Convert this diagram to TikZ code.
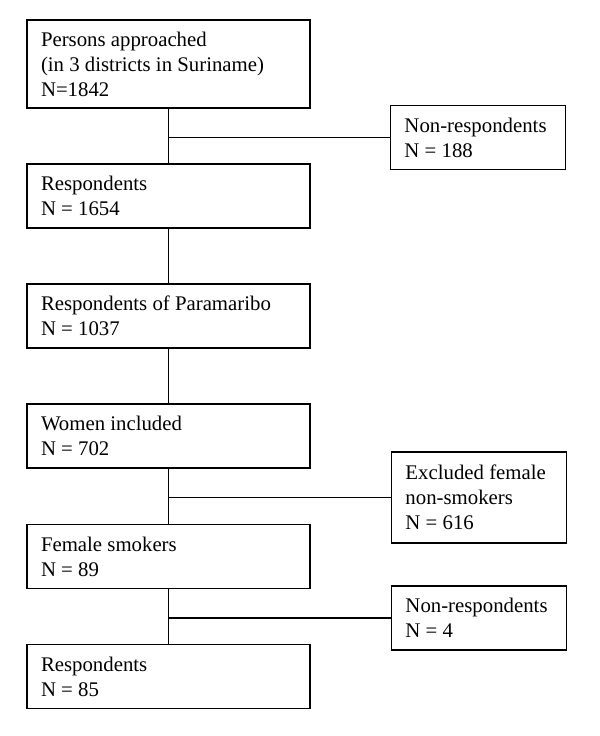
\documentclass[tikz,border=0pt]{standalone}
\usepackage{fontspec}
\setmainfont{Liberation Serif}
\begin{document}
\begin{tikzpicture}[x=0.5pt,y=-0.5pt,
  stage/.style={draw, line width=0.7pt, text width=127.5pt, inner xsep=7pt, minimum height=32pt,
    align=flush left, font=\fontsize{10.4}{12.5}\selectfont},
  side/.style={stage, text width=73.5pt},
  link/.style={line width=0.7pt}]
 \useasboundingbox (0,0) rectangle (600,736);

 % main column
 \node[stage, minimum height=44pt] (approached) at (168.5,64) {Persons approached\\(in 3 districts in Suriname)\\N=1842};
 \foreach \n/\y/\txt in {resp/196/{Respondents\\N = 1654}, para/316/{Respondents of Paramaribo\\N = 1037},
     women/436/{Women included\\N = 702}, smokers/556.5/{Female smokers\\N = 89}, final/676.5/{Respondents\\N = 85}} {
   \node[stage] (\n) at (168.5,\y) {\txt};
 }

 % side boxes
 \node[side] (nonresp) at (478,137.5) {Non-respondents\\N = 188};
 \node[side, minimum height=45.5pt] (excluded) at (479,497.5) {Excluded female\\non-smokers\\N = 616};
 \node[side] (nonresptwo) at (479,618) {Non-respondents\\N = 4};

 % lines
 \foreach \a/\b in {approached/resp, resp/para, para/women, women/smokers, smokers/final}
   \draw[link] (\a.south) -- (\b.north);
 \foreach \a/\s in {approached/nonresp, women/excluded, smokers/nonresptwo}
   \draw[link] (\a.south |- \s.west) -- (\s.west);

\end{tikzpicture}
\end{document}
